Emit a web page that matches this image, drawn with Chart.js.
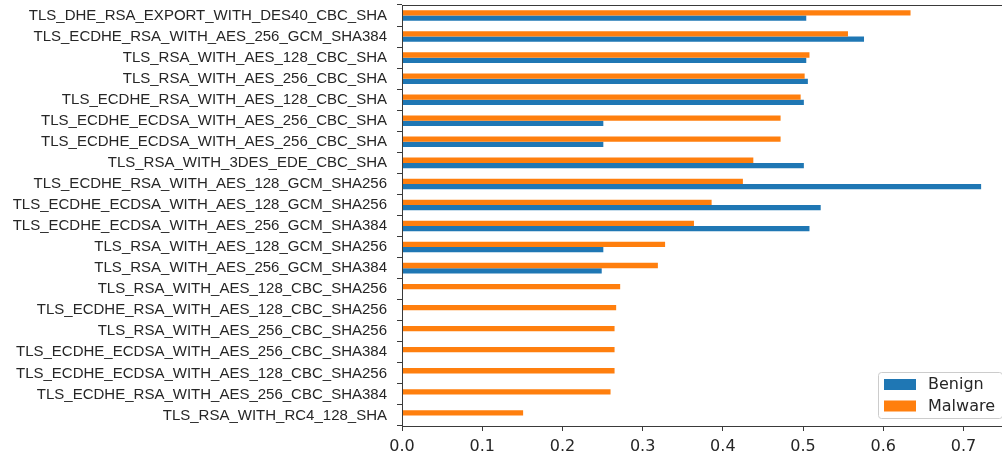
<!DOCTYPE html>
<html>
<head>
<meta charset="utf-8">
<script src="https://cdn.jsdelivr.net/npm/chart.js@4.4.0/dist/chart.umd.min.js"></script>
<style>
  html, body { margin: 0; padding: 0; background: #fff; overflow: hidden; }
  #wrap { width: 1002px; height: 454px; overflow: hidden; }
</style>
</head>
<body>
<div id="wrap"><canvas id="suiteChart" width="1010" height="454"></canvas></div>
<script>
// cipher suites, top to bottom
const suites = [
  'TLS_DHE_RSA_EXPORT_WITH_DES40_CBC_SHA',
  'TLS_ECDHE_RSA_WITH_AES_256_GCM_SHA384',
  'TLS_RSA_WITH_AES_128_CBC_SHA',
  'TLS_RSA_WITH_AES_256_CBC_SHA',
  'TLS_ECDHE_RSA_WITH_AES_128_CBC_SHA',
  'TLS_ECDHE_ECDSA_WITH_AES_256_CBC_SHA',
  'TLS_ECDHE_ECDSA_WITH_AES_256_CBC_SHA',
  'TLS_RSA_WITH_3DES_EDE_CBC_SHA',
  'TLS_ECDHE_RSA_WITH_AES_128_GCM_SHA256',
  'TLS_ECDHE_ECDSA_WITH_AES_128_GCM_SHA256',
  'TLS_ECDHE_ECDSA_WITH_AES_256_GCM_SHA384',
  'TLS_RSA_WITH_AES_128_GCM_SHA256',
  'TLS_RSA_WITH_AES_256_GCM_SHA384',
  'TLS_RSA_WITH_AES_128_CBC_SHA256',
  'TLS_ECDHE_RSA_WITH_AES_128_CBC_SHA256',
  'TLS_RSA_WITH_AES_256_CBC_SHA256',
  'TLS_ECDHE_ECDSA_WITH_AES_256_CBC_SHA384',
  'TLS_ECDHE_ECDSA_WITH_AES_128_CBC_SHA256',
  'TLS_ECDHE_RSA_WITH_AES_256_CBC_SHA384',
  'TLS_RSA_WITH_RC4_128_SHA'
];
const benign = [0.504, 0.576, 0.504, 0.506, 0.501, 0.251, 0.251, 0.501, 0.722, 0.522,
                0.508, 0.251, 0.249, 0, 0, 0, 0, 0, 0, 0];
const malware = [0.634, 0.556, 0.508, 0.502, 0.497, 0.472, 0.472, 0.438, 0.425, 0.386,
                 0.364, 0.328, 0.319, 0.272, 0.267, 0.265, 0.265, 0.265, 0.260, 0.151];
const xTicks = [0, 0.1, 0.2, 0.3, 0.4, 0.5, 0.6, 0.7];

const axisColor = '#3a3a3a';
const textColor = '#262626';

// matplotlib style frame + legend box in the lower right corner
const framePlugin = {
  id: 'frame',
  afterDatasetsDraw(chart) {
    const { ctx, chartArea: a } = chart;
    ctx.save();
    ctx.strokeStyle = axisColor;
    ctx.lineWidth = 1;
    ctx.strokeRect(a.left + 0.5, a.top + 0.5, a.right - a.left - 1, a.bottom - a.top);
    ctx.restore();
  },
  afterDraw(chart) {
    const { ctx, chartArea: a } = chart;
    const w = 124, h = 46;
    const x = a.right - 8 - w, y = a.bottom - 8 - h;
    ctx.save();
    ctx.fillStyle = 'rgba(255,255,255,0.8)';
    ctx.strokeStyle = '#cccccc';
    ctx.lineWidth = 1;
    ctx.beginPath();
    ctx.roundRect(x + 0.5, y + 0.5, w, h, 3);
    ctx.fill();
    ctx.stroke();
    ctx.font = '16px "DejaVu Sans"';
    ctx.textBaseline = 'middle';
    // legend lists Benign first, like the original
    const items = chart.data.datasets.slice().reverse();
    items.forEach((ds, i) => {
      const cy = y + 12 + i * 21.5;
      ctx.fillStyle = ds.backgroundColor;
      ctx.fillRect(x + 6, cy - 5, 32, 11);
      ctx.fillStyle = textColor;
      ctx.fillText(ds.label, x + 50, cy + 1);
    });
    ctx.restore();
  }
};

const ctx = document.getElementById('suiteChart').getContext('2d');
const suiteChart = new Chart(ctx, {
  type: 'bar',
  data: {
    labels: suites,
    datasets: [
      { label: 'Malware', data: malware, backgroundColor: '#ff7f0e' },
      { label: 'Benign', data: benign, backgroundColor: '#1f77b4' }
    ]
  },
  options: {
    indexAxis: 'y',
    responsive: false,
    animation: false,
    categoryPercentage: 0.5,
    barPercentage: 1.0,
    layout: { padding: { top: 5, right: 0, left: 0, bottom: 0 } },
    plugins: {
      legend: { display: false },
      tooltip: { enabled: false }
    },
    scales: {
      x: {
        type: 'linear',
        min: 0,
        max: 0.758,
        afterBuildTicks: (scale) => { scale.ticks = xTicks.map(v => ({ value: v })); },
        afterFit: (scale) => { scale.height = 28; scale.paddingLeft = 0; scale.paddingRight = 0; },
        border: { display: false },
        grid: { drawOnChartArea: false, drawTicks: true, tickLength: 5, color: axisColor },
        ticks: {
          padding: 6,
          color: textColor,
          font: { family: 'DejaVu Sans', size: 16 },
          callback: (v) => Number(v).toFixed(1)
        }
      },
      y: {
        afterFit: (scale) => { scale.width = 402; scale.paddingTop = 0; scale.paddingBottom = 0; },
        border: { display: false },
        grid: { drawOnChartArea: false, drawTicks: true, tickLength: 5, color: axisColor },
        ticks: {
          autoSkip: false,
          padding: 10,
          color: textColor,
          font: { family: 'Liberation Sans', size: 15 }
        }
      }
    }
  },
  plugins: [framePlugin]
});
</script>
</body>
</html>
